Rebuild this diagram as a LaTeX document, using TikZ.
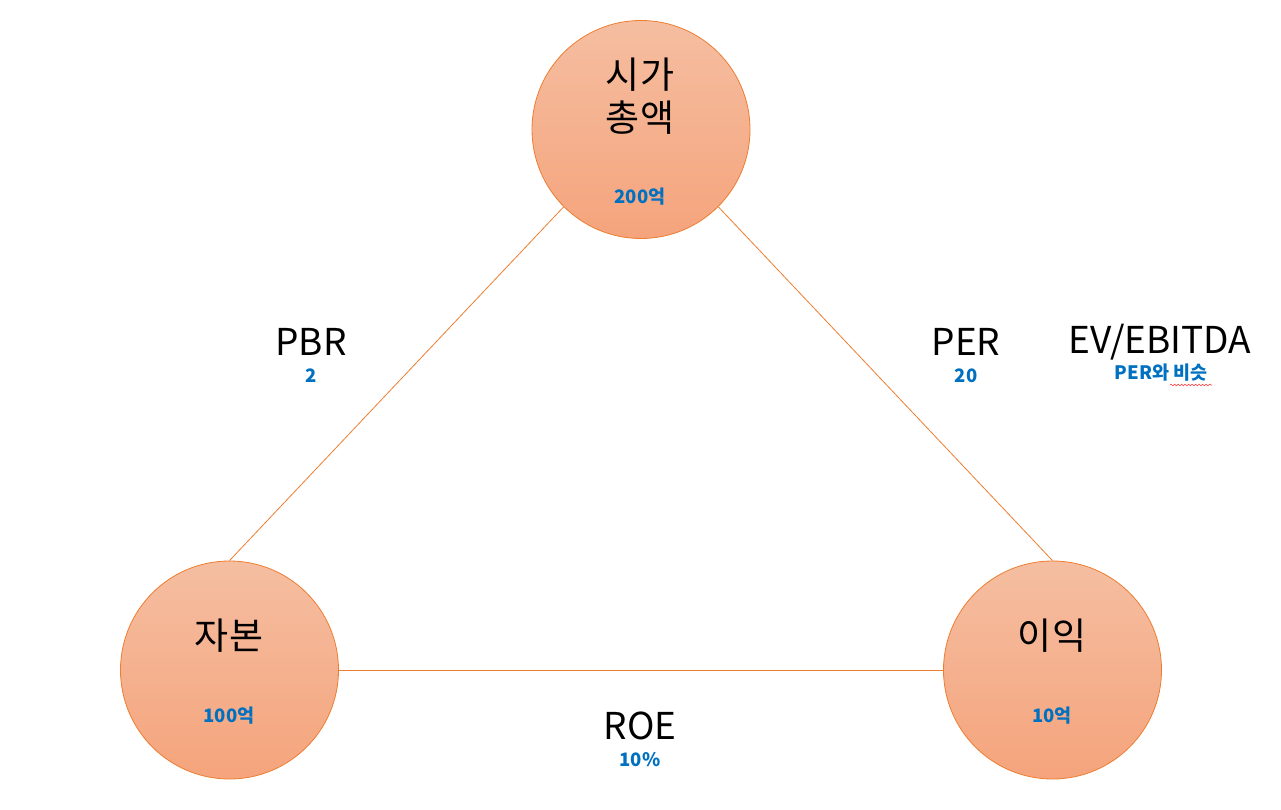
\documentclass[tikz,border=0pt]{standalone}
\usepackage{fontspec}
\setmainfont{Noto Sans CJK KR}
\usetikzlibrary{decorations.pathmorphing}
\definecolor{edgeor}{HTML}{ED7D31}
\definecolor{topfill}{HTML}{F5BEA1}
\definecolor{botfill}{HTML}{F5A47C}
\definecolor{valblue}{HTML}{0070C0}
\tikzset{
  bubble/.style={circle, draw=edgeor, line width=0.8pt, minimum size=218pt, inner sep=0pt, top color=topfill, bottom color=botfill},
  link/.style={draw=edgeor, line width=0.8pt},
  bigtxt/.style={font=\fontsize{37}{44}\selectfont, text=black, align=center, inner sep=0pt},
  valtxt/.style={font=\fontsize{18.5}{22}\selectfont\bfseries, text=valblue, inner sep=0pt},
}
\begin{document}
\begin{tikzpicture}[x=1pt,y=-1pt]
\useasboundingbox (0,0) rectangle (1281,810);
\node[bubble] (top) at (641,129.5) {};
\node[bubble] (cap) at (229.5,670) {};
\node[bubble] (inc) at (1052.5,670) {};
\draw[link] (top.225) -- (cap.north);
\draw[link] (top.-45) -- (inc.north);
\draw[link] (cap.east) -- (inc.west);
\node[bigtxt] (t1) at (640,96) {시가\\[-1pt]총액};
\node[valtxt] (t2) at (640,197) {200억};
\node[bigtxt] (c1) at (229,636) {자본};
\node[valtxt] (c2) at (229,716) {100억};
\node[bigtxt] (i1) at (1052,636) {이익};
\node[valtxt] (i2) at (1052,716) {10억};
\node[bigtxt] (pbr) at (311,342) {PBR};
\node[valtxt] (pbrv) at (311,376) {2};
\node[bigtxt] (per) at (966,342) {PER};
\node[valtxt] (perv) at (966,376) {20};
\node[bigtxt] (ev) at (1160,342) {EV/EBITDA};
\node[valtxt] (evv) at (1161,373) {PER와 비슷};
\node[bigtxt] (roe) at (640,726) {ROE};
\node[valtxt] (roev) at (640,760) {10\%};
\draw[red!80, line width=0.6pt, decorate, decoration={snake, amplitude=0.8pt, segment length=3.5pt}] (1170,385) -- (1212,385);
\end{tikzpicture}
\end{document}
